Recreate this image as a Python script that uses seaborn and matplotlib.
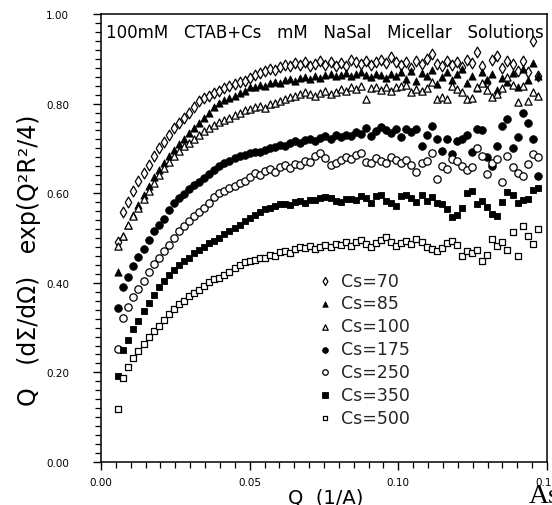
import numpy as np
import pandas as pd
import matplotlib
matplotlib.use("Agg")
import matplotlib.pyplot as plt
import seaborn as sns
from matplotlib.ticker import MultipleLocator, FormatStrFormatter

# ---------------- data ----------------
Q = [0.0058, 0.0075, 0.0092, 0.0109, 0.0126, 0.0143, 0.0160, 0.0177, 0.0194, 0.0211,
     0.0228, 0.0245, 0.0262, 0.0279, 0.0296, 0.0313, 0.0330, 0.0347, 0.0364, 0.0381,
     0.0398, 0.0415, 0.0432, 0.0449, 0.0466, 0.0483, 0.0500, 0.0517, 0.0534, 0.0551,
     0.0568, 0.0585, 0.0602, 0.0619, 0.0636, 0.0653, 0.0670, 0.0687, 0.0704, 0.0721,
     0.0738, 0.0755, 0.0772, 0.0789, 0.0806, 0.0823, 0.0840, 0.0857, 0.0874, 0.0891,
     0.0908, 0.0925, 0.0942, 0.0959, 0.0976, 0.0993, 0.1010, 0.1027, 0.1044, 0.1061,
     0.1078, 0.1095, 0.1112, 0.1129, 0.1146, 0.1163, 0.1180, 0.1197, 0.1214, 0.1231,
     0.1248, 0.1265, 0.1282, 0.1299, 0.1316, 0.1333, 0.1350, 0.1367, 0.1384, 0.1401,
     0.1418, 0.1435, 0.1452, 0.1469]

cs70 = [0.490, 0.558, 0.581, 0.604, 0.627, 0.646, 0.664, 0.683, 0.700, 0.714,
        0.730, 0.746, 0.757, 0.768, 0.779, 0.792, 0.805, 0.812, 0.818, 0.823,
        0.828, 0.834, 0.840, 0.844, 0.848, 0.851, 0.858, 0.864, 0.869, 0.872,
        0.877, 0.875, 0.882, 0.886, 0.883, 0.890, 0.887, 0.893, 0.885, 0.889,
        0.894, 0.887, 0.892, 0.884, 0.890, 0.885, 0.898, 0.893, 0.889, 0.895,
        0.886, 0.892, 0.897, 0.890, 0.903, 0.893, 0.887, 0.892, 0.880, 0.895,
        0.888, 0.899, 0.910, 0.889, 0.884, 0.896, 0.886, 0.893, 0.881, 0.897,
        0.890, 0.915, 0.885, 0.848, 0.898, 0.906, 0.880, 0.895, 0.888, 0.873,
        0.896, 0.870, 0.940, 0.862]

cs85 = [0.424, 0.505, 0.530, 0.552, 0.574, 0.596, 0.616, 0.636, 0.652, 0.668,
        0.683, 0.697, 0.710, 0.722, 0.735, 0.746, 0.757, 0.768, 0.780, 0.793,
        0.801, 0.807, 0.812, 0.818, 0.824, 0.829, 0.836, 0.838, 0.842, 0.840,
        0.846, 0.848, 0.845, 0.852, 0.855, 0.851, 0.857, 0.860, 0.856, 0.862,
        0.858, 0.863, 0.866, 0.861, 0.864, 0.868, 0.862, 0.866, 0.870, 0.864,
        0.860, 0.867, 0.863, 0.858, 0.866, 0.862, 0.870, 0.856, 0.873, 0.850,
        0.868, 0.862, 0.875, 0.843, 0.860, 0.871, 0.852, 0.866, 0.878, 0.845,
        0.862, 0.835, 0.870, 0.852, 0.865, 0.830, 0.858, 0.848, 0.868, 0.836,
        0.878, 0.853, 0.890, 0.862]

cs100 = [0.482, 0.505, 0.528, 0.548, 0.566, 0.586, 0.604, 0.622, 0.640, 0.656,
         0.670, 0.682, 0.695, 0.705, 0.713, 0.722, 0.730, 0.738, 0.745, 0.752,
         0.758, 0.763, 0.768, 0.774, 0.779, 0.785, 0.789, 0.792, 0.795, 0.791,
         0.798, 0.802, 0.806, 0.810, 0.815, 0.818, 0.822, 0.826, 0.821, 0.817,
         0.824, 0.829, 0.822, 0.827, 0.832, 0.828, 0.837, 0.833, 0.839, 0.810,
         0.834, 0.838, 0.831, 0.836, 0.829, 0.837, 0.840, 0.842, 0.826, 0.832,
         0.828, 0.835, 0.848, 0.810, 0.815, 0.810, 0.840, 0.833, 0.826, 0.810,
         0.812, 0.838, 0.845, 0.830, 0.815, 0.822, 0.835, 0.860, 0.842, 0.803,
         0.840, 0.806, 0.825, 0.818]

cs175 = [0.344, 0.390, 0.413, 0.437, 0.458, 0.476, 0.495, 0.515, 0.530, 0.543,
         0.562, 0.578, 0.590, 0.598, 0.610, 0.618, 0.625, 0.633, 0.642, 0.652,
         0.660, 0.667, 0.672, 0.678, 0.682, 0.686, 0.690, 0.693, 0.691, 0.697,
         0.700, 0.703, 0.708, 0.706, 0.712, 0.716, 0.713, 0.719, 0.722, 0.717,
         0.724, 0.727, 0.721, 0.729, 0.726, 0.731, 0.728, 0.737, 0.733, 0.745,
         0.727, 0.738, 0.748, 0.741, 0.735, 0.744, 0.725, 0.743, 0.736, 0.744,
         0.705, 0.729, 0.749, 0.721, 0.694, 0.721, 0.688, 0.717, 0.722, 0.729,
         0.692, 0.743, 0.741, 0.680, 0.660, 0.705, 0.750, 0.766, 0.700, 0.725,
         0.780, 0.757, 0.720, 0.638]

cs250 = [0.252, 0.322, 0.346, 0.368, 0.386, 0.404, 0.424, 0.441, 0.456, 0.470,
         0.484, 0.500, 0.516, 0.527, 0.538, 0.548, 0.557, 0.566, 0.578, 0.592,
         0.600, 0.606, 0.612, 0.617, 0.622, 0.628, 0.636, 0.645, 0.641, 0.650,
         0.655, 0.648, 0.659, 0.664, 0.657, 0.666, 0.662, 0.672, 0.669, 0.684,
         0.690, 0.678, 0.663, 0.668, 0.674, 0.681, 0.677, 0.686, 0.689, 0.670,
         0.668, 0.678, 0.672, 0.668, 0.680, 0.674, 0.668, 0.675, 0.662, 0.647,
         0.668, 0.672, 0.690, 0.632, 0.661, 0.655, 0.676, 0.672, 0.660, 0.652,
         0.658, 0.700, 0.683, 0.643, 0.667, 0.676, 0.625, 0.683, 0.658, 0.645,
         0.638, 0.665, 0.687, 0.680]

cs350 = [0.192, 0.250, 0.273, 0.296, 0.315, 0.337, 0.355, 0.372, 0.390, 0.404,
         0.418, 0.428, 0.440, 0.449, 0.456, 0.466, 0.473, 0.481, 0.489, 0.494,
         0.500, 0.509, 0.515, 0.522, 0.530, 0.537, 0.545, 0.552, 0.559, 0.564,
         0.568, 0.572, 0.575, 0.577, 0.574, 0.580, 0.582, 0.578, 0.585, 0.584,
         0.589, 0.592, 0.590, 0.583, 0.580, 0.586, 0.588, 0.585, 0.594, 0.590,
         0.578, 0.593, 0.597, 0.583, 0.579, 0.571, 0.594, 0.596, 0.590, 0.581,
         0.595, 0.583, 0.592, 0.578, 0.575, 0.565, 0.547, 0.552, 0.566, 0.600,
         0.604, 0.577, 0.582, 0.570, 0.553, 0.548, 0.580, 0.603, 0.596, 0.579,
         0.585, 0.588, 0.607, 0.612]

cs500 = [0.118, 0.188, 0.212, 0.232, 0.248, 0.263, 0.278, 0.292, 0.303, 0.318,
         0.330, 0.341, 0.352, 0.360, 0.370, 0.378, 0.385, 0.393, 0.401, 0.408,
         0.411, 0.418, 0.424, 0.433, 0.440, 0.446, 0.449, 0.452, 0.455, 0.456,
         0.462, 0.460, 0.468, 0.472, 0.467, 0.476, 0.480, 0.477, 0.483, 0.476,
         0.481, 0.485, 0.479, 0.486, 0.484, 0.490, 0.483, 0.492, 0.495, 0.487,
         0.479, 0.489, 0.496, 0.502, 0.490, 0.482, 0.489, 0.494, 0.486, 0.498,
         0.490, 0.480, 0.476, 0.470, 0.478, 0.488, 0.494, 0.484, 0.460, 0.470,
         0.466, 0.474, 0.449, 0.462, 0.498, 0.482, 0.492, 0.474, 0.513, 0.460,
         0.527, 0.504, 0.487, 0.520]

labels = ["Cs=70", "Cs=85", "Cs=100", "Cs=175", "Cs=250", "Cs=350", "Cs=500"]
series = [cs70, cs85, cs100, cs175, cs250, cs350, cs500]

title_text = "100mM   CTAB+Cs   mM   NaSal   Micellar   Solutions"
xlabel_text = "Q  (1/A)"
ylabel_text = "Q   (dΣ/dΩ)   exp(Q²R²/4)"

# ---------------- styling ----------------
sns.set_theme(style="ticks")
plt.rcParams["font.family"] = ["DejaVu Sans"]

styles = {
    "Cs=70":  dict(marker="d", s=30, fill=False),
    "Cs=85":  dict(marker="^", s=27, fill=True),
    "Cs=100": dict(marker="^", s=27, fill=False),
    "Cs=175": dict(marker="o", s=30, fill=True),
    "Cs=250": dict(marker="o", s=28, fill=False),
    "Cs=350": dict(marker="s", s=24, fill=True),
    "Cs=500": dict(marker="s", s=22, fill=False),
}

fig = plt.figure(figsize=(5.52, 5.06), dpi=100)
ax = fig.add_axes([101 / 552, 1 - 463 / 506, 446 / 552, 448 / 506])

for lab, vals in zip(labels, series):
    assert len(vals) == len(Q), lab
    st = styles[lab]
    df = pd.DataFrame({"Q": Q, "v": vals})
    if st["fill"]:
        sns.scatterplot(data=df, x="Q", y="v", marker=st["marker"], s=st["s"],
                        color="black", edgecolor="black", linewidth=0.6,
                        label=lab, ax=ax, zorder=3)
    else:
        sns.scatterplot(data=df, x="Q", y="v", marker=st["marker"], s=st["s"],
                        facecolor="white", edgecolor="black", linewidth=0.9,
                        label=lab, ax=ax, zorder=3)

ax.set_xlim(0, 0.15)
ax.set_ylim(0, 1.0)
ax.xaxis.set_major_locator(MultipleLocator(0.05))
ax.xaxis.set_minor_locator(MultipleLocator(0.005))
ax.yaxis.set_major_locator(MultipleLocator(0.2))
ax.yaxis.set_minor_locator(MultipleLocator(0.02))
ax.xaxis.set_major_formatter(FormatStrFormatter("%.2f"))
ax.yaxis.set_major_formatter(FormatStrFormatter("%.2f"))

ax.tick_params(axis="both", which="major", direction="out", length=6, width=1.0,
               color="black", labelsize=7.5, labelcolor="black")
ax.tick_params(axis="both", which="minor", direction="out", length=4, width=0.9,
               color="black")
ax.yaxis.set_tick_params(which="major", pad=17)
ax.xaxis.set_tick_params(which="major", pad=5)
for sp in ax.spines.values():
    sp.set_visible(True)
    sp.set_linewidth(1.1)
    sp.set_color("black")

ax.set_xlabel(xlabel_text, fontsize=14, color="black")
ax.set_ylabel(ylabel_text, fontsize=17, color="black")
ax.xaxis.set_label_coords(0.504, -0.058)
ax.yaxis.set_label_coords(-0.135, 0.453)

ax.text(0.011, 0.949, title_text, transform=ax.transAxes, fontsize=12,
        ha="left", va="baseline", color="black")

leg = ax.legend(loc="upper left", bbox_to_anchor=(0.487, 0.425), frameon=False,
                fontsize=12.5, handlelength=0.8, handletextpad=0.5,
                labelspacing=0.28, borderpad=0, borderaxespad=0, markerscale=0.75)

fig.text(529 / 552, 1 - 503 / 506, "As", family="Liberation Serif", fontsize=20,
         ha="left", va="baseline", color="black")

fig.savefig("out.png", dpi=100)
